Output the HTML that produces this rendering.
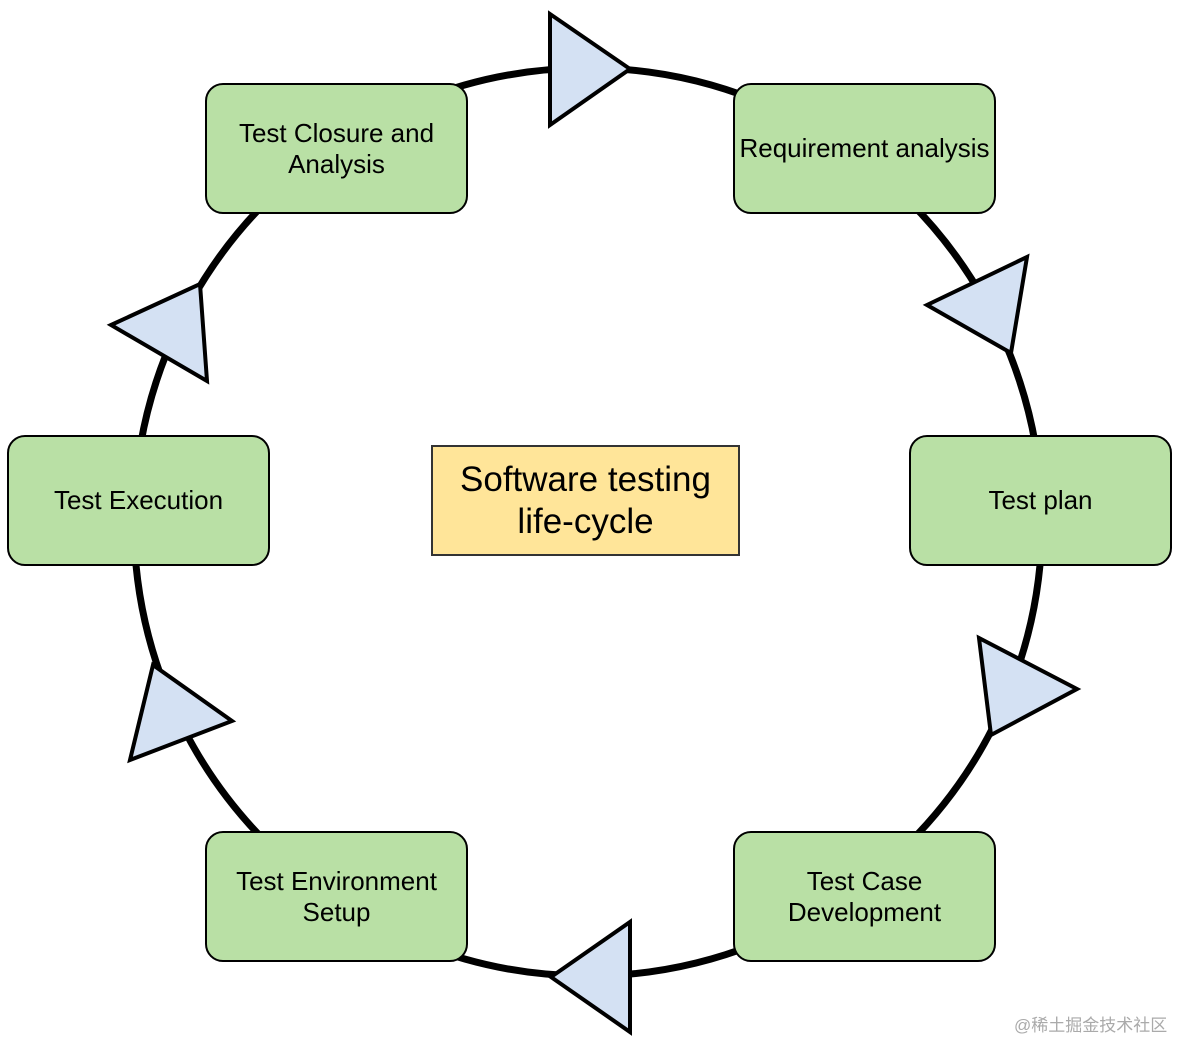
<!DOCTYPE html>
<html><head><meta charset="utf-8"><style>
html,body{margin:0;padding:0;background:#fff;width:1181px;height:1039px;overflow:hidden;position:relative;font-family:"Liberation Sans",Arial,sans-serif}
.b{position:absolute;width:263px;height:131px;box-sizing:border-box;background:#b9e0a5;border:2px solid #000;border-radius:18px;display:flex;align-items:center;justify-content:center;text-align:center;font-size:26px;line-height:31px;color:#000;white-space:nowrap}
.c{position:absolute;left:431px;top:445px;width:309px;height:111px;box-sizing:border-box;background:#ffe599;border:2px solid #333;display:flex;align-items:center;justify-content:center;text-align:center;font-size:35px;line-height:42px}
.w{position:absolute;left:1014px;top:1011px;font-size:17px;color:#aaa;font-family:"Liberation Sans","Noto Sans CJK SC",sans-serif}
</style></head><body>
<svg width="1181" height="1039" style="position:absolute;left:0;top:0">
<circle cx="588" cy="522" r="454" fill="none" stroke="#000" stroke-width="7"/>
<g fill="#d4e1f3" stroke="#000" stroke-width="4" stroke-linejoin="miter">
<polygon points="550,14 550,125 630,69"/>
<polygon points="1027,257 1011,353 927,305"/>
<polygon points="979,638 991,735 1077,689"/>
<polygon points="630,922 630,1032 551,977"/>
<polygon points="153,665 130,760 232,721"/>
<polygon points="111,325 200,284 207,381"/>
</g>
</svg>
<div class="b" style="left:205px;top:83px">Test Closure and<br>Analysis</div>
<div class="b" style="left:733px;top:83px">Requirement analysis</div>
<div class="b" style="left:909px;top:435px">Test plan</div>
<div class="b" style="left:733px;top:831px">Test Case<br>Development</div>
<div class="b" style="left:205px;top:831px">Test Environment<br>Setup</div>
<div class="b" style="left:7px;top:435px">Test Execution</div>
<div class="c">Software testing<br>life-cycle</div>
<div class="w">@稀土掘金技术社区</div>
</body></html>
